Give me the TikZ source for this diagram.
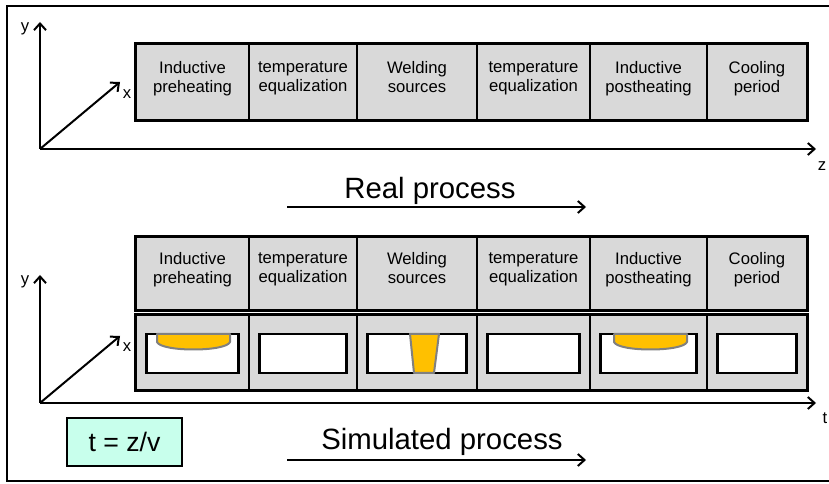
\documentclass[tikz,border=0pt]{standalone}
\usepackage{fontspec}
\setmainfont{Liberation Sans}
\usetikzlibrary{arrows.meta}
\definecolor{cellgray}{RGB}{217,217,217}
\definecolor{poolorange}{RGB}{255,192,0}
\definecolor{poolgray}{RGB}{128,128,128}
\definecolor{formulacyan}{RGB}{200,255,236}

\begin{document}
\begin{tikzpicture}[x=0.75pt,y=-0.75pt]
			\tikzstyle{cell}=[draw,line width=1.2pt,fill=cellgray,inner sep=0pt]
			\tikzstyle{celltext}=[anchor=north,align=center,inner sep=0pt,font=\fontsize{12.5}{14.3}\selectfont,execute at begin node=\strut]
			\tikzstyle{hole}=[draw,line width=1.8pt,fill=white,inner sep=0pt,minimum height=29.25pt]
			\tikzstyle{rowframe}=[line width=2pt]
			\tikzstyle{axis}=[line width=1.5pt,-{Straight Barb[length=5pt,width=9pt]}]
			\tikzstyle{axislabel}=[inner sep=0pt,font=\fontsize{12.5}{14}\selectfont]
			\tikzstyle{pool}=[draw=poolgray,line width=1.5pt,fill=poolorange,line join=round]
			\tikzstyle{process}=[inner sep=0pt,font=\fontsize{22}{26}\selectfont]
			
			\useasboundingbox (0,0) rectangle (829,484);
			\draw[line width=1.5pt] (7,6) rectangle (835,481);
			
			% real process
			\foreach \n/\x/\w/\t in {pre/192.5/113/{Inductive\\preheating},
				eqa/303/108/{temperature\\equalization},
				weld/417/120/{Welding\\sources},
				eqb/533.5/113/{temperature\\equalization},
				post/648.5/117/{Inductive\\postheating},
				cool/757/100/{Cooling\\period}}{
				\node[cell,minimum width=\w*0.75pt,minimum height=57pt] (\n1) at (\x,82) {};
				\node[celltext] (\n1t) at (\x,61) {\t};
				\node[cell,minimum width=\w*0.75pt,minimum height=54.75pt] (\n2) at (\x,273.5) {};
				\node[celltext] (\n2t) at (\x,252) {\t};
				\node[cell,minimum width=\w*0.75pt,minimum height=56.25pt] (\n3) at (\x,352.5) {};
				\node[hole,minimum width=(\w-21)*0.75pt] (\n h) at (\x,353.5) {};
			}
			\draw[rowframe] (pre1.north west) rectangle (cool1.south east);
			\draw[rowframe] (pre2.north west) rectangle (cool2.south east);
			\draw[rowframe] (pre3.north west) rectangle (cool3.south east);
			
			% weld pools
			\draw[pool] (157,334) -- (157,342) .. controls (161,352) and (226,352) .. (230,342) -- (230,334) -- cycle;
			\draw[pool] (410,334) -- (439,334) -- (434,373) -- (414,373) -- cycle;
			\draw[pool] (614,334) -- (614,342) .. controls (618,352) and (683,352) .. (687,342) -- (687,334) -- cycle;
			
			% axes
			\coordinate (o1) at (40,149);
			\coordinate (y1) at (40,22);
			\coordinate (x1) at (120,82);
			\coordinate (z1) at (816,149);
			\draw[axis] (o1) -- (y1);
			\draw[axis] (o1) -- (x1);
			\draw[axis] (o1) -- (z1);
			\node[axislabel] (ly1) at (25,29) {y};
			\node[axislabel] (lx1) at (127,94) {x};
			\node[axislabel] (lz1) at (822,166) {z};
			
			\coordinate (o2) at (40,403);
			\coordinate (y2) at (40,275);
			\coordinate (x2) at (120,336);
			\coordinate (t2) at (816,403);
			\draw[axis] (o2) -- (y2);
			\draw[axis] (o2) -- (x2);
			\draw[axis] (o2) -- (t2);
			\node[axislabel] (ly2) at (25,282) {y};
			\node[axislabel] (lx2) at (127,347) {x};
			\node[axislabel] (lt2) at (825,418) {t};
			
			% process arrows
			\node[process] (real) at (430,191) {Real process};
			\coordinate (ra) at (287,207);
			\coordinate (rb) at (586,207);
			\draw[axis] (ra) -- (rb);
			\node[process] (sim) at (442,442) {Simulated process};
			\coordinate (sa) at (287,460);
			\coordinate (sb) at (586,460);
			\draw[axis] (sa) -- (sb);
			
			\node[draw,line width=1.8pt,fill=formulacyan,minimum width=86pt,minimum height=36pt,font=\fontsize{20}{24}\selectfont] (formula) at (124.5,442) {t = z/v};
\end{tikzpicture}
\end{document}
